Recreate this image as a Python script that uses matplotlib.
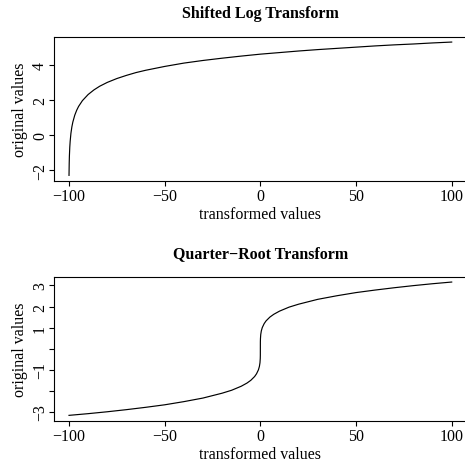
import matplotlib
matplotlib.use("Agg")
import matplotlib.pyplot as plt

plt.rcParams['font.family'] = ['Liberation Serif', 'DejaVu Serif']
plt.rcParams['axes.unicode_minus'] = True

# shifted log transform
log_x = [-100, -99.9, -99.8, -99.6, -99.4, -99, -98.5, -98, -97, -96, -95,
         -93, -90, -87, -84, -80, -75, -70, -65, -60, -50, -40, -30, -20,
         -10, 0, 10, 20, 30, 40, 50, 60, 70, 80, 90, 100]
log_y = [-2.30, -1.61, -1.20, -0.69, -0.36, 0.10, 0.47, 0.74, 1.13, 1.41, 1.63,
         1.96, 2.31, 2.57, 2.78, 3.00, 3.22, 3.40, 3.56, 3.69, 3.91, 4.10, 4.25, 4.38,
         4.50, 4.61, 4.70, 4.79, 4.87, 4.94, 5.01, 5.08, 5.14, 5.19, 5.25, 5.30]

# quarter-root transform
qr_x = [-100, -90, -80, -70, -60, -50, -40, -30, -20, -15, -10, -7, -5, -3, -2,
        -1, -0.5, -0.2, -0.05, -0.01, 0, 0.01, 0.05, 0.2, 0.5, 1, 2, 3, 5, 7,
        10, 15, 20, 30, 40, 50, 60, 70, 80, 90, 100]
qr_y = [-3.16, -3.08, -2.99, -2.89, -2.78, -2.66, -2.51, -2.34, -2.11, -1.97, -1.78,
        -1.63, -1.50, -1.32, -1.19, -1.00, -0.84, -0.67, -0.47, -0.32, 0.0, 0.32, 0.47,
        0.67, 0.84, 1.00, 1.19, 1.32, 1.50, 1.63, 1.78, 1.97, 2.11, 2.34, 2.51, 2.66,
        2.78, 2.89, 2.99, 3.08, 3.16]

x_ticks = [-100, -50, 0, 50, 100]
log_yticks = [-2, 0, 2, 4]
qr_yticks = [-3, -2, -1, 0, 1, 2, 3]
qr_ylabels = ['\u22123', '', '\u22121', '', '1', '2', '3']

fig = plt.figure(figsize=(4.65, 4.64), dpi=100)
ax1 = fig.add_axes([0.1155, 0.6084, 0.8888, 0.3103])
ax2 = fig.add_axes([0.1155, 0.0912, 0.8888, 0.3103])

fs = 11.5


def style(ax, title):
    ax.margins(0.04)
    for s in ax.spines.values():
        s.set_linewidth(0.8)
    ax.set_xticks(x_ticks)
    ax.tick_params(length=3.6, width=0.8, labelsize=fs)
    ax.tick_params(axis='x', pad=1.6)
    ax.tick_params(axis='y', pad=6.2)
    for lab in ax.get_yticklabels():
        lab.set_rotation(90)
        lab.set_ha('center')
        lab.set_va('center')
    ax.set_xlabel('transformed values', fontsize=fs)
    ax.set_ylabel('original values', fontsize=fs)
    ax.xaxis.set_label_coords(0.5, -0.178)
    ax.yaxis.set_label_coords(-0.062, 0.5)
    ax.text(0.5, 1.135, title, transform=ax.transAxes, ha='center',
            va='baseline', fontsize=fs, fontweight='bold')


ax1.plot(log_x, log_y, color='black', lw=0.85)
ax1.set_yticks(log_yticks)
style(ax1, 'Shifted Log Transform')

ax2.plot(qr_x, qr_y, color='black', lw=0.85)
ax2.set_yticks(qr_yticks)
ax2.set_yticklabels(qr_ylabels)
style(ax2, 'Quarter\u2212Root Transform')

fig.savefig('out.png', dpi=100)
